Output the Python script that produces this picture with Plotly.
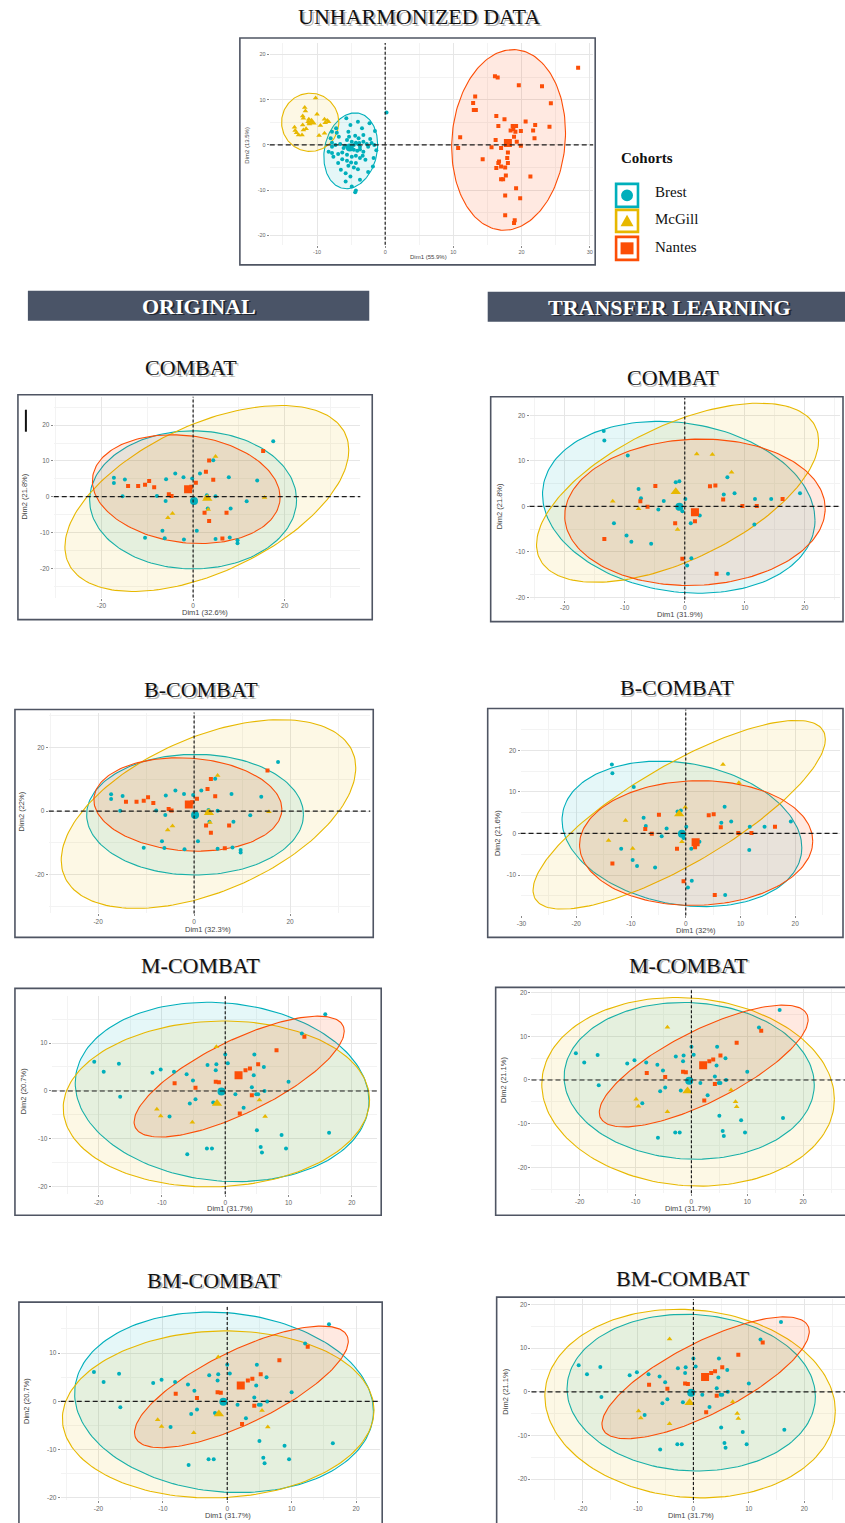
import numpy as np
import plotly.graph_objects as go

GROUPS = ["Brest", "McGill", "Nantes"]

# ---------------- Unharmonized data ----------------
unh_brest_x = [-5.7,-4.0,-2.3,-3.4,-5.1,-7.8,-7.1,-1.5,-6.8,-5.3,-4.4,-3.9,-5.6,-4.9,-4.3,-4.0,-3.8,-3.2,-2.7,-2.0,
               -1.6,-7.8,-7.3,-6.6,-5.9,-5.4,-5.1,-4.6,-4.1,-3.7,-3.2,-8.3,-7.8,-6.9,-6.3,-5.6,-4.9,-4.3,-3.7,-6.3,
               -5.6,-5.0,-4.3,-5.4,-4.6,-4.0,-1.7,-1.8,-5.8,-5.1,-3.7,-5.8,-4.9,-4.3,-4.4,-7.6,0.2,-3.2,-2.5,-7.2,
               -5.4,-6.1,-4.6,-3.7,-3.3,-2.9,-6.9,-7.8,-8.0,-2.2,-1.3,-6.5,-2.5]
unh_brest_y = [5.9,5.1,4.8,3.7,4.4,2.9,2.7,3.1,1.8,1.8,2.0,1.5,1.1,0.7,0.5,0.2,0.4,0.7,0.2,0.4,
               0.0,0.5,0.0,0.2,-0.2,-0.4,-0.9,-1.1,-1.3,-1.0,-1.5,-1.5,-1.8,-2.0,-1.7,-2.2,-2.6,-2.4,-2.9,-3.2,
               -3.5,-3.9,-4.0,-4.6,-5.0,-5.4,-2.9,-4.8,-6.3,-7.0,-7.7,-8.1,-9.2,-10.1,-10.5,-2.6,7.2,2.2,-0.4,3.7,
               2.9,-0.7,0.0,-0.4,-2.4,-3.3,-4.0,-0.4,1.5,1.3,-1.2,-5.5,-6.0]
unh_mcgill_x = [-10.2,-11.8,-11.7,-12.1,-12.0,-11.2,-11.3,-10.9,-10.7,-11.1,-8.9,-8.5,-8.8,-8.3,-9.5,-13.3,-13.2,-13.0,
                -12.7,-12.2,-12.0,-12.1,-8.9,-9.7,-10.0,-11.6]
unh_mcgill_y = [10.4,8.3,7.5,6.4,5.9,5.7,5.1,5.1,4.9,4.6,5.7,5.4,4.9,5.1,4.3,3.9,3.2,2.7,2.2,2.2,3.3,4.4,2.6,2.1,6.8,3.6]
unh_nantes_x = [28.3,16.1,16.5,19.6,23.0,24.3,13.2,12.9,13.0,13.3,16.3,17.5,20.6,22.0,16.6,18.7,19.2,24.1,18.8,18.4,
                21.7,19.9,19.1,11.0,21.9,18.9,16.2,19.3,10.7,15.6,19.9,17.0,18.0,17.9,14.3,16.7,16.6,18.0,17.0,17.6,
                16.3,21.3,17.7,17.0,17.3,19.2,17.6,19.8,17.6,19.0,18.9]
unh_nantes_y = [17.1,15.2,14.9,13.2,13.0,9.2,10.7,9.3,7.7,7.7,6.4,5.7,5.2,4.4,4.2,4.2,4.2,4.0,3.5,3.2,
                3.2,3.1,2.9,1.7,1.5,1.8,1.1,0.7,-0.7,-0.5,-0.2,-0.7,-1.7,-2.9,-3.2,-3.7,-4.0,-4.0,-4.8,-5.0,
                -5.1,-7.0,-6.8,-7.6,-7.6,-9.6,-11.2,-11.8,-15.6,-16.7,-17.3]
unh_center_x = [-5.2, -10.8, 18.0]
unh_center_y = [-0.6, 5.0, 0.4]

# ---------------- Original COMBAT / B-COMBAT ----------------
a_brest_x = [-17.3,-17.3,-14.9,-15.4,-7.9,-5.9,-3.9,-2.1,-0.2,1.5,-6.0,-6.7,-6.2,-2.0,0.8,3.0,3.2,4.9,4.9,7.8,
             8.2,8.0,9.7,9.7,11.7,14.0,17.5,-10.5,4.4]
a_brest_y = [5.3,3.8,4.8,0.1,0.2,4.9,6.5,5.4,5.1,6.5,-1.2,-9.5,-11.6,-12.0,-9.5,0.4,-3.3,0.1,-11.8,5.4,
             -3.3,-11.4,-12.2,-13.0,-1.3,4.5,15.5,-11.5,10.2]
a_mcgill_x = [4.9, 2.8, 3.3, -4.5, -5.5, 15.6]
a_mcgill_y = [11.2, -0.2, -3.6, -4.7, -5.9, -0.2]
a_nantes_x = [-14.2,-12.0,-10.5,-9.6,-8.5,-5.3,-4.7,-0.4,0.6,2.8,4.4,3.5,2.5,3.5,7.3,6.4,15.3]
a_nantes_y = [3.0,3.0,3.3,4.4,2.6,0.7,0.2,2.8,3.9,7.0,4.7,10.1,-4.5,-6.8,-4.5,-11.7,12.8]
a_center_x = [0.2, 3.1, -1.1]
a_center_y = [-1.2, -0.5, 2.1]

# ---------------- Transfer learning COMBAT / B-COMBAT ----------------
b_brest_x = [-13.5,-13.4,-9.5,-7.7,-7.3,-3.5,-4.4,-1.5,-0.9,0.1,-0.4,2.5,1.0,-11.8,-9.7,-8.9,-5.6,1.1,0.4,7.2,
             7.1,6.5,8.3,11.7,14.4,11.6,19.2]
b_brest_y = [16.6,14.5,11.2,3.8,1.8,1.2,-0.7,5.3,5.5,1.6,-1.1,-2.0,-3.7,-3.7,-6.4,-7.8,-8.2,-11.4,-13.0,-14.8,
             6.4,2.6,2.9,1.6,1.6,-4.0,2.9]
b_mcgill_x = [2.0, 4.6, 7.8, -12.0, -7.7, -1.2]
b_mcgill_y = [11.5, 11.4, 7.5, 1.1, -0.5, -5.1]
b_nantes_x = [-4.9,-7.4,-6.2,-13.4,-1.6,-0.4,4.2,5.1,6.4,9.6,12.0,16.3,1.7,5.3]
b_nantes_y = [4.5,1.1,-0.1,-7.2,-3.7,-11.5,4.4,4.6,1.5,0.1,0.1,1.6,-3.3,-14.8]
b_center_x = [-0.9, -1.5, 1.7]
b_center_y = [-0.1, 3.2, -1.3]
b2_mcgill_x = [6.8, 9.7, -11.0, -14.1, -9.7, -0.1, -0.7]
b2_mcgill_y = [16.6, 12.2, 3.1, -1.7, -3.6, 6.3, -2.0]
b2_center_x = [-0.7, -1.2, 1.8]
b2_center_y = [-0.1, 4.7, -2.1]

# ---------------- M-COMBAT / BM-COMBAT ----------------
c_brest_x = [-20.7,-19.2,-16.8,-16.6,-11.5,-10.2,-8.1,-6.1,-5.1,-5.6,-4.7,-8.8,-2.8,-1.4,-1.5,0.0,0.4,1.6,2.9,4.5,
             4.2,4.6,6.1,4.9,5.2,6.2,10.0,12.1,15.8,16.4,8.9,9.6,5.0,5.6,5.8,-2.9,-2.1,-6.0,-1.9]
c_brest_y = [6.1,4.0,5.7,-1.2,3.8,4.5,4.0,3.5,2.2,-2.6,-1.7,-5.3,5.4,5.6,4.3,7.6,5.8,-0.7,-3.5,3.3,
             0.8,7.6,5.0,-0.7,-0.7,0.0,1.9,12.0,16.0,-8.7,-9.2,-12.0,-8.2,-11.7,-12.8,-12.0,-12.0,-13.2,-2.4]
c_nantes_x = [-8.0, -4.7, -1.5, -1.0, 3.2, 3.9, 5.2, 8.1, 12.5, 4.2, 2.3]
c_nantes_y = [1.6, 0.7, 1.9, 1.8, 4.3, 4.7, 5.6, 8.5, 11.3, -0.9, -4.7]
c_orig_mcgill_x = [-1.4, -10.8, -10.2, -5.2, 5.4, 6.3]
c_orig_mcgill_y = [9.2, -3.8, -5.2, -6.5, -1.9, -5.3]
c_tl_mcgill_x = [-4.3, -9.9, -9.5, -4.3, 7.1, 7.9, 8.1]
c_tl_mcgill_y = [12.1, -4.4, -6.0, -7.3, -2.3, -5.0, -6.1]
c_orig_center_x = [-0.6, -1.3, 2.1]
c_orig_center_y = [-0.1, -2.6, 3.3]
c_tl_center_x = [-0.4, -0.7, 2.1]
c_tl_center_y = [-0.2, -2.5, 3.4]

# ---------------- concentration ellipses [cx, cy, sd_x, sd_y, corr] (Brest, McGill, Nantes) ----------------
ell_unh = [[-5.05, -1.3, 3.95, 8.4, 0.16], [-11.0, 5.0, 4.2, 6.45, 0.0], [18.1, 1.1, 8.35, 20.0, 0.08]]
ell_orig_combat = [[0.0, -0.9, 22.6, 19.3, 0.0], [3.0, -0.5, 31.0, 26.0, 0.52], [-1.5, 2.1, 20.5, 15.2, -0.15]]
ell_tl_combat = [[-1.0, -0.2, 22.7, 18.9, -0.15], [-1.2, 3.0, 23.5, 19.7, 0.58], [1.7, -1.3, 21.7, 16.1, 0.05]]
ell_orig_bcombat = [[0.2, -1.1, 22.6, 19.0, 0.0], [3.0, -0.9, 30.7, 29.7, 0.49], [-1.3, 2.1, 19.6, 14.7, -0.1]]
ell_tl_bcombat = [[-0.7, -0.1, 21.9, 17.5, -0.19], [-1.2, 4.5, 26.7, 22.7, 0.8], [1.9, -2.3, 21.3, 15.0, 0.03]]
ell_orig_m = [[-0.5, -0.2, 23.2, 18.7, -0.1], [-1.4, -2.7, 24.2, 17.3, 0.05], [2.2, 3.0, 16.6, 12.6, 0.75]]
ell_tl_m = [[-0.4, -0.2, 22.4, 17.95, -0.05], [-0.6, -2.7, 26.2, 21.6, -0.08], [2.2, 3.2, 18.7, 13.95, 0.76]]

# ---------------- styling ----------------
W, H = 845, 1523
COL = {"Brest": "#00AFBB", "McGill": "#E7B800", "Nantes": "#FC4E07"}
FILL = {"Brest": "rgba(0,175,187,0.10)", "McGill": "rgba(231,184,0,0.10)", "Nantes": "rgba(252,78,7,0.12)"}
SYM = {"Brest": "circle", "McGill": "triangle-up", "Nantes": "square"}
SIZE = {"Brest": 4, "McGill": 5, "Nantes": 4}
CSIZE = {"Brest": 8, "McGill": 9, "Nantes": 8}
SERIF = "Liberation Serif, Times New Roman, serif"
SANS = "Liberation Sans, Arial, sans-serif"


def px(x):
    return x / W


def py(y):
    return 1 - y / H


def ellipse(cx, cy, sx, sy, r, n=181):
    t = np.linspace(0, 2 * np.pi, n)
    ex = cx + sx * np.cos(t)
    ey = cy + sy * (r * np.cos(t) + np.sqrt(1 - r * r) * np.sin(t))
    return ex, ey


panels = [
    dict(pts=[(unh_brest_x, unh_brest_y), (unh_mcgill_x, unh_mcgill_y), (unh_nantes_x, unh_nantes_y)],
         cen=(unh_center_x, unh_center_y), ell=ell_unh, box=(267, 43, 592, 245), map=(383, 6.85, 145, 4.52),
         dx=10, dy=10, xlab="Dim1 (55.9%)", ylab="Dim2 (13.5%)", xl=(427, 257), yl=(244, 145),
         frame=(237, 38, 594, 265), fs=6, tfs=5.5),
    dict(pts=[(a_brest_x, a_brest_y), (a_mcgill_x, a_mcgill_y), (a_nantes_x, a_nantes_y)],
         cen=(a_center_x, a_center_y), ell=ell_orig_combat, box=(50, 397, 358, 598), map=(190, 4.6, 497, 3.58),
         dx=20, dy=10, xlab="Dim1 (32.6%)", ylab="Dim2 (21.8%)", xl=(202, 613), yl=(21, 497),
         frame=(14, 395, 370, 620), fs=7.5, tfs=6.5),
    dict(pts=[(b_brest_x, b_brest_y), (b_mcgill_x, b_mcgill_y), (b_nantes_x, b_nantes_y)],
         cen=(b_center_x, b_center_y), ell=ell_tl_combat, box=(528, 398, 840, 600), map=(684, 6.03, 506.7, 4.55),
         dx=10, dy=10, xlab="Dim1 (31.9%)", ylab="Dim2 (21.8%)", xl=(679, 615), yl=(498, 507),
         frame=(489, 397, 843, 622), fs=7.5, tfs=6.5),
    dict(pts=[(a_brest_x, a_brest_y), (a_mcgill_x, a_mcgill_y), (a_nantes_x, a_nantes_y)],
         cen=(a_center_x, a_center_y), ell=ell_orig_bcombat, box=(45, 713, 368, 914), map=(191, 4.82, 811.7, 3.18),
         dx=20, dy=20, xlab="Dim1 (32.3%)", ylab="Dim2 (22%)", xl=(205, 930), yl=(18, 812),
         frame=(11, 710, 371, 938), fs=7.5, tfs=6.5),
    dict(pts=[(b_brest_x, b_brest_y), (b2_mcgill_x, b2_mcgill_y), (b_nantes_x, b_nantes_y)],
         cen=(b2_center_x, b2_center_y), ell=ell_tl_bcombat, box=(519, 710, 840, 916), map=(685, 5.5, 834, 4.16),
         dx=10, dy=10, xlab="Dim1 (32%)", ylab="Dim2 (21.6%)", xl=(695, 931), yl=(496, 834),
         frame=(486, 709, 843, 938), fs=7.5, tfs=6.5),
    dict(pts=[(c_brest_x, c_brest_y), (c_orig_mcgill_x, c_orig_mcgill_y), (c_nantes_x, c_nantes_y)],
         cen=(c_orig_center_x, c_orig_center_y), ell=ell_orig_m, box=(48, 997, 375, 1195),
         map=(222.3, 6.36, 1091.7, 4.8), dx=10, dy=10, xlab="Dim1 (31.7%)", ylab="Dim2 (20.7%)",
         xl=(227, 1209), yl=(19, 1092), frame=(11, 989, 379, 1216), fs=7.5, tfs=6.5),
    dict(pts=[(c_brest_x, c_brest_y), (c_tl_mcgill_x, c_tl_mcgill_y), (c_nantes_x, c_nantes_y)],
         cen=(c_tl_center_x, c_tl_center_y), ell=ell_tl_m, box=(530, 990, 845, 1194),
         map=(690.7, 5.61, 1080.7, 4.37), dx=10, dy=10, xlab="Dim1 (31.7%)", ylab="Dim2 (21.1%)",
         xl=(687, 1209), yl=(502, 1081), frame=(494, 988, 849, 1216), fs=7.5, tfs=6.5),
    dict(pts=[(c_brest_x, c_brest_y), (c_orig_mcgill_x, c_orig_mcgill_y), (c_nantes_x, c_nantes_y)],
         cen=(c_orig_center_x, c_orig_center_y), ell=ell_orig_m, box=(57, 1307, 378, 1501),
         map=(224.3, 6.47, 1402.3, 4.83), dx=10, dy=10, xlab="Dim1 (31.7%)", ylab="Dim2 (20.7%)",
         xl=(225, 1516), yl=(22, 1402), frame=(15, 1303, 380, 1540), fs=7.5, tfs=6.5),
    dict(pts=[(c_brest_x, c_brest_y), (c_tl_mcgill_x, c_tl_mcgill_y), (c_nantes_x, c_nantes_y)],
         cen=(c_tl_center_x, c_tl_center_y), ell=ell_tl_m, box=(530, 1300, 845, 1501),
         map=(692.7, 5.57, 1392.7, 4.37), dx=10, dy=10, xlab="Dim1 (31.7%)", ylab="Dim2 (21.1%)",
         xl=(690, 1516), yl=(503, 1393), frame=(495, 1298, 849, 1540), fs=7.5, tfs=6.5),
]

fig = go.Figure()
layout = dict(width=W, height=H, margin=dict(l=0, r=0, t=0, b=0), paper_bgcolor="white",
              plot_bgcolor="white", showlegend=False)
shapes = []
annotations = []


def ticks_in(lo, hi, step, offset=0.0):
    start = np.ceil((lo - offset) / step) * step + offset
    vals = []
    v = start
    while v <= hi + 1e-9:
        vals.append(round(float(v), 6))
        v += step
    return vals


for i, p in enumerate(panels, start=1):
    s = "" if i == 1 else str(i)
    L, T, R, B = p["box"]
    x0, sx, y0, sy = p["map"]
    xr = [(L - x0) / sx, (R - x0) / sx]
    yr = [(y0 - B) / sy, (y0 - T) / sy]
    xt = ticks_in(xr[0], xr[1], p["dx"])
    yt = ticks_in(yr[0], yr[1], p["dy"])
    xm = ticks_in(xr[0], xr[1], p["dx"], p["dx"] / 2)
    ym = ticks_in(yr[0], yr[1], p["dy"], p["dy"] / 2)
    common = dict(showgrid=True, gridcolor="#e6e6e6", gridwidth=0.8, zeroline=False, showline=False,
                  ticks="outside", ticklen=2, tickcolor="#8a8a8a", tickwidth=0.8,
                  tickfont=dict(size=p["tfs"], color="#666666", family=SANS), fixedrange=True, tickmode="array")
    layout["xaxis" + s] = dict(common, domain=[px(L), px(R)], range=xr, anchor="y" + s,
                               tickvals=xt, ticktext=[str(int(v)) for v in xt],
                               minor=dict(tickmode="array", tickvals=xm, showgrid=True,
                                          gridcolor="#f3f3f3", gridwidth=0.6, ticks=""))
    layout["yaxis" + s] = dict(common, domain=[py(B), py(T)], range=yr, anchor="x" + s,
                               tickvals=yt, ticktext=[str(int(v)) for v in yt],
                               minor=dict(tickmode="array", tickvals=ym, showgrid=True,
                                          gridcolor="#f3f3f3", gridwidth=0.6, ticks=""))

    # ellipses
    for g, prm in zip(GROUPS, p["ell"]):
        ex, ey = ellipse(*prm)
        fig.add_trace(go.Scatter(x=ex, y=ey, mode="lines", fill="toself", fillcolor=FILL[g],
                                 line=dict(color=COL[g], width=1.1), hoverinfo="skip",
                                 xaxis="x" + s, yaxis="y" + s))
    # individual points
    for g, (gx, gy) in zip(GROUPS, p["pts"]):
        fig.add_trace(go.Scatter(x=gx, y=gy, mode="markers",
                                 marker=dict(color=COL[g], symbol=SYM[g], size=SIZE[g], line=dict(width=0)),
                                 xaxis="x" + s, yaxis="y" + s, name=g))
    # group means
    cx, cy = p["cen"]
    for k, g in enumerate(GROUPS):
        fig.add_trace(go.Scatter(x=[cx[k]], y=[cy[k]], mode="markers",
                                 marker=dict(color=COL[g], symbol=SYM[g], size=CSIZE[g], line=dict(width=0)),
                                 xaxis="x" + s, yaxis="y" + s))

    # dashed reference lines (data x = 0 and y = 0 across the panel)
    shapes.append(dict(type="line", xref="x" + s, yref="paper", x0=0, x1=0, y0=py(B), y1=py(T),
                       line=dict(color="#1c1c1c", width=1.2, dash="3px,2px"), layer="above"))
    shapes.append(dict(type="line", xref="paper", yref="y" + s, x0=px(L), x1=px(R), y0=0, y1=0,
                       line=dict(color="#1c1c1c", width=1.2, dash="5px,3px"), layer="above"))
    # frame
    fL, fT, fR, fB = p["frame"]
    shapes.append(dict(type="rect", xref="paper", yref="paper", x0=px(fL), x1=px(fR), y0=py(fB), y1=py(fT),
                       line=dict(color="#4f5563", width=1.6), layer="above"))
    # axis titles
    annotations.append(dict(x=px(p["xl"][0]), y=py(p["xl"][1]), xref="paper", yref="paper", text=p["xlab"],
                            showarrow=False, font=dict(size=p["fs"], color="#444", family=SANS),
                            xanchor="center", yanchor="middle"))
    annotations.append(dict(x=px(p["yl"][0]), y=py(p["yl"][1]), xref="paper", yref="paper", text=p["ylab"],
                            showarrow=False, textangle=-90, font=dict(size=p["fs"], color="#444", family=SANS),
                            xanchor="center", yanchor="middle"))

# stray black tick in first original panel
shapes.append(dict(type="line", xref="paper", yref="paper", x0=px(22), x1=px(22), y0=py(432), y1=py(410),
                   line=dict(color="#111", width=2), layer="above"))


def title(text, x, y, size=22, bold=False, color="#111", shadow="rgba(0,0,0,0.30)"):
    t = "<b>%s</b>" % text if bold else text
    annotations.append(dict(x=px(x), y=py(y), xref="paper", yref="paper", text=t, showarrow=False,
                            xshift=1.6, yshift=-1.6, font=dict(size=size, color=shadow, family=SERIF),
                            xanchor="center", yanchor="middle"))
    annotations.append(dict(x=px(x), y=py(y), xref="paper", yref="paper", text=t, showarrow=False,
                            font=dict(size=size, color=color, family=SERIF), xanchor="center", yanchor="middle"))


title("UNHARMONIZED DATA", 417, 17)
title("COMBAT", 188, 368)
title("COMBAT", 672, 378)
title("B-COMBAT", 198, 690)
title("B-COMBAT", 676, 688)
title("M-COMBAT", 197, 966)
title("M-COMBAT", 688, 966)
title("BM-COMBAT", 211, 1281)
title("BM-COMBAT", 682, 1279)

# header bars
for (L, T, R, B), txt, cxh in [((24, 291, 367, 321), "ORIGINAL", 196), ((486, 292, 847, 322), "TRANSFER LEARNING", 669)]:
    shapes.append(dict(type="rect", xref="paper", yref="paper", x0=px(L), x1=px(R), y0=py(B), y1=py(T),
                       fillcolor="#4a5467", line=dict(width=0), layer="above"))
    title(txt, cxh, (T + B) / 2 + 0.5, size=22, bold=True, color="white", shadow="rgba(0,0,0,0.55)")

# legend
annotations.append(dict(x=px(618), y=py(158), xref="paper", yref="paper", text="<b>Cohorts</b>",
                        showarrow=False, font=dict(size=15, color="#111", family=SERIF),
                        xanchor="left", yanchor="middle"))
leg_rows = [("Brest", 184, 207, 192), ("McGill", 210, 232, 219), ("Nantes", 237, 260, 247)]
for g, t0, t1, ly in leg_rows:
    shapes.append(dict(type="rect", xref="paper", yref="paper", x0=px(615), x1=px(637), y0=py(t1), y1=py(t0),
                       line=dict(color=COL[g], width=2.6), fillcolor="white", layer="above"))
    cyl = (t0 + t1) / 2
    if g == "Brest":
        shapes.append(dict(type="circle", xref="paper", yref="paper", x0=px(620), x1=px(632),
                           y0=py(cyl + 6), y1=py(cyl - 6), fillcolor=COL[g], line=dict(width=0), layer="above"))
    elif g == "McGill":
        path = "M %f,%f L %f,%f L %f,%f Z" % (px(619.5), py(cyl + 5.5), px(632.5), py(cyl + 5.5),
                                              px(626), py(cyl - 6))
        shapes.append(dict(type="path", xref="paper", yref="paper", path=path, fillcolor=COL[g],
                           line=dict(width=0), layer="above"))
    else:
        shapes.append(dict(type="rect", xref="paper", yref="paper", x0=px(619.5), x1=px(632.5),
                           y0=py(cyl + 6), y1=py(cyl - 6), fillcolor=COL[g], line=dict(width=0), layer="above"))
    annotations.append(dict(x=px(652), y=py(ly), xref="paper", yref="paper", text=g, showarrow=False,
                            font=dict(size=15, color="#111", family=SERIF), xanchor="left", yanchor="middle"))

layout["shapes"] = shapes
layout["annotations"] = annotations
fig.update_layout(**layout)
fig.write_html("out.html", config={"displayModeBar": False},
               post_script="document.body.style.margin='0px';")
